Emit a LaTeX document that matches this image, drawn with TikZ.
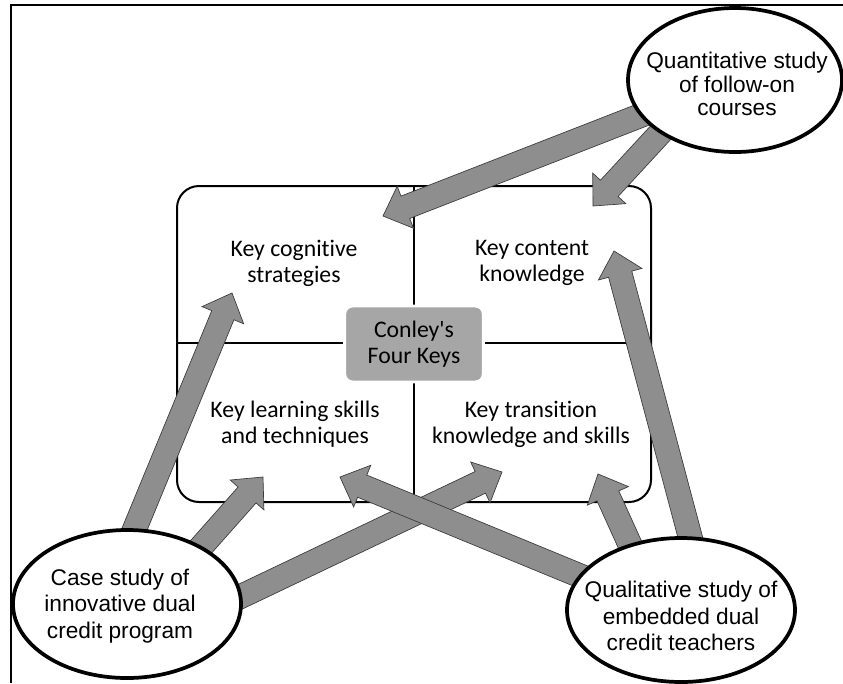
\documentclass[tikz,border=0pt]{standalone}
\usepackage{fontspec}
\setmainfont{Carlito}[Ligatures=NoCommon]
\newfontfamily\arialf{Liberation Sans}
\usetikzlibrary{calc,shapes.geometric}
\definecolor{arrowfill}{HTML}{8E8E8E}
\definecolor{arrowline}{HTML}{3A3A3A}
\definecolor{keybox}{HTML}{A6A6A6}
\tikzset{
  frameline/.style={line width=1.5pt},
  quadbox/.style={draw, line width=1.5pt, rounded corners=16.5pt},
  divider/.style={line width=1.5pt},
  keytext/.style={align=center, inner sep=0pt, font=\fontsize{17.8pt}{19.5pt}\selectfont},
  centerbox/.style={draw=white, line width=2.2pt, fill=keybox, rounded corners=6pt,
    minimum width=104pt, minimum height=57pt, inner sep=0pt, align=center,
    font=\fontsize{17.8pt}{19.5pt}\selectfont},
  studyshape/.style={ellipse, draw, fill=white, line width=2.8pt, inner sep=0pt},
  studytext/.style={align=center, inner sep=0pt, font=\arialf\fontsize{17pt}{20pt}\selectfont},
  blockarr/.style={fill=arrowfill, draw=arrowline, line width=0.5pt, line join=miter},
}
\newcommand\blockarrow[2]{%
  \coordinate (ba-b) at ($(#2)!18pt!(#1)$);
  \filldraw[blockarr] ($(#1)!9pt!90:(#2)$) -- ($(ba-b)!9pt!90:(#2)$)
    -- ($(ba-b)!16.9pt!90:(#2)$) -- (#2) -- ($(ba-b)!16.9pt!-90:(#2)$)
    -- ($(ba-b)!9pt!-90:(#2)$) -- ($(#1)!9pt!-90:(#2)$) -- cycle;
}
\begin{document}
\begin{tikzpicture}[x=0.75pt, y=-0.75pt]
\useasboundingbox (0,0) rectangle (843,683);
\fill[white] (0,0) rectangle (843,683);
% frame (only top and left edges visible)
\draw[frameline] (11,683) -- (11,5) -- (843,5);
% four keys rectangle
\draw[quadbox] (177,186) rectangle (651,502);
\draw[divider] (414,186) -- (414,502);
\draw[divider] (177,343) -- (651,343);
\node[centerbox] (conley) at (414,344) {Conley\textquotesingle s\\Four Keys};
% quadrant texts
\node[keytext] (cog) at (294,263) {Key cognitive\\strategies};
\node[keytext] (cont) at (532,263) {Key content\\knowledge};
\node[keytext] (learn) at (295,424) {Key learning skills\\and techniques};
\node[keytext] (trans) at (531,424) {Key transition\\knowledge and skills};
% arrow end points
\coordinate (q1) at (660,108);  \coordinate (tip1) at (383,216);
\coordinate (q2) at (676,116);  \coordinate (tip2) at (593,206);
\coordinate (c3) at (128,545);  \coordinate (tip3) at (232,293);
\coordinate (c4) at (185,565);  \coordinate (tip4) at (263,477);
\coordinate (c5) at (225,604);  \coordinate (tip5) at (502,472);
\coordinate (u6) at (600,584);  \coordinate (tip6) at (340,477);
\coordinate (u7) at (636,558);  \coordinate (tip7) at (598,474);
\coordinate (u8) at (695,555);  \coordinate (tip8) at (614,251);
% arrows
\blockarrow{q1}{tip1}
\blockarrow{q2}{tip2}
\blockarrow{c3}{tip3}
\blockarrow{c4}{tip4}
\blockarrow{c5}{tip5}
\blockarrow{u6}{tip6}
\blockarrow{u7}{tip7}
\blockarrow{u8}{tip8}
% study ellipses
\node[studyshape, minimum width=160.5pt, minimum height=108pt] (quant) at (735,80) {};
\node[studyshape, minimum width=171pt, minimum height=111pt] (case) at (127,604) {};
\node[studyshape, minimum width=171pt, minimum height=108pt] (qual) at (681,610) {};
\node[studytext, font=\arialf\fontsize{17pt}{17.5pt}\selectfont] (quantt) at (737,84) {Quantitative study\\of follow-on\\courses};
\node[studytext] (caset) at (120,606) {Case study of\\innovative dual\\credit program};
\node[studytext] (qualt) at (681,616) {Qualitative study of\\embedded dual\\credit teachers};
\end{tikzpicture}
\end{document}
